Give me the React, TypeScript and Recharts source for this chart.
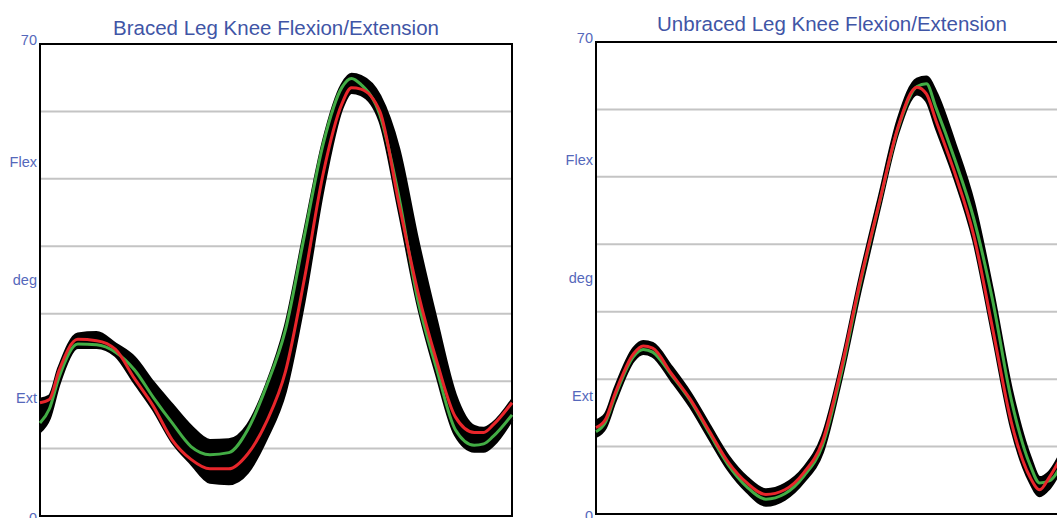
import React from 'react';
import {
  ComposedChart,
  Line,
  Area,
  XAxis,
  YAxis,
  CartesianGrid,
  ReferenceArea,
} from 'recharts';

// ---- Braced leg (left panel) ----
const gaitBraced = [0, 2, 4, 8, 12, 16, 20, 24, 28, 32, 36, 40, 44, 48, 52, 56, 60, 64, 66, 68, 72, 76, 80, 84, 88, 92, 94, 96, 100];
const bracedGreen = [13.8, 15.9, 20.5, 25.5, 25.4, 24.3, 21.7, 17.6, 13.8, 10.3, 9.1, 9.4, 12.8, 19.3, 27.6, 41.5, 55.2, 63.6, 64.9, 64.0, 59.5, 47.5, 32.2, 21.9, 12.8, 10.5, 10.7, 11.8, 15.0];
const bracedRed = [16.8, 17.3, 21.5, 26.2, 26.0, 24.7, 20.4, 16.3, 11.3, 8.4, 7.0, 7.0, 9.2, 14.0, 21.4, 35.1, 50.8, 61.2, 63.5, 63.3, 60.0, 46.5, 33.4, 23.1, 14.7, 12.4, 12.4, 13.5, 16.8];
const bracedBandLow = [12.5, 14.5, 19.5, 25.0, 25.0, 23.8, 19.8, 15.8, 11.0, 7.8, 5.0, 4.8, 6.5, 11.5, 18.5, 32.0, 48.5, 60.5, 62.8, 62.5, 58.6, 45.5, 31.5, 21.0, 12.0, 9.6, 9.6, 10.5, 14.3];
const bracedBandHigh = [17.3, 17.8, 22.0, 27.0, 27.2, 25.5, 23.5, 19.8, 16.5, 13.3, 11.2, 11.3, 13.5, 19.5, 28.2, 42.0, 55.5, 64.0, 65.5, 65.2, 62.3, 54.5, 41.0, 29.0, 18.0, 13.3, 13.0, 13.8, 17.2];

// ---- Unbraced leg (right panel) ----
const gaitUnbraced = [0, 2, 4, 8, 10, 12, 16, 20, 24, 28, 32, 36, 40, 44, 48, 52, 56, 60, 64, 68, 70, 72, 76, 80, 84, 88, 92, 94, 96, 100];
const unbracedGreen = [12.2, 13.6, 17.4, 23.4, 24.4, 24.0, 20.6, 16.8, 12.0, 7.3, 4.0, 2.2, 3.0, 5.6, 10.2, 21.0, 34.2, 46.0, 57.2, 63.4, 63.8, 60.3, 52.6, 43.9, 31.8, 16.9, 7.2, 4.6, 4.9, 9.5];
const unbracedRed = [12.8, 14.0, 17.8, 23.8, 24.9, 24.6, 20.8, 17.0, 12.3, 7.7, 4.6, 2.9, 3.6, 6.1, 10.8, 21.7, 34.6, 46.1, 57.4, 63.3, 62.3, 58.4, 50.6, 41.4, 27.6, 13.6, 5.4, 3.6, 5.4, 10.5];
const unbracedBandLow = [11.5, 12.8, 16.6, 22.8, 23.8, 23.4, 19.8, 15.9, 11.2, 6.6, 3.3, 1.3, 2.2, 4.8, 9.2, 20.2, 33.2, 45.2, 56.6, 62.3, 61.3, 57.4, 49.8, 40.6, 26.8, 12.8, 4.7, 2.7, 3.8, 8.8];
const unbracedBandHigh = [13.8, 14.8, 18.6, 24.6, 25.6, 25.3, 21.8, 17.9, 13.2, 8.6, 5.4, 3.6, 4.4, 6.8, 11.6, 22.3, 35.3, 47.0, 58.5, 64.5, 64.8, 62.6, 55.0, 46.2, 33.2, 18.5, 8.4, 5.4, 6.2, 11.3];

// ---- Axis text ----
const yTicks = [0, 17.5, 35, 52.5, 70];
const yTickLabels = ['0', 'Ext', 'deg', 'Flex', '70'];
const gridValues = [10, 20, 30, 40, 50, 60];
const yDomain = [0, 70];
const titleBraced = 'Braced Leg Knee Flexion/Extension';
const titleUnbraced = 'Unbraced Leg Knee Flexion/Extension';

const TITLE_COLOR = '#3f55a6';
const TICK_COLOR = '#5568bb';
const FONT = '"Liberation Sans", Arial, sans-serif';

function buildRows(gait: number[], lo: number[], hi: number[], green: number[], red: number[]) {
  return gait.map((g, i) => ({ gait: g, band: [lo[i], hi[i]], green: green[i], red: red[i] }));
}

function gridCoords(args: any): number[] {
  const s = args?.yAxis?.scale;
  if (typeof s === 'function') return gridValues.map((v) => s(v));
  if (s && typeof s.map === 'function') return gridValues.map((v) => s.map(v));
  const off = args?.offset;
  if (off && typeof off.top === 'number') {
    return gridValues.map((v) => off.top + off.height * (1 - (v - yDomain[0]) / (yDomain[1] - yDomain[0])));
  }
  return [];
}

const YTick = (props: any) => {
  const { x, y, payload } = props;
  const idx = yTicks.indexOf(payload.value);
  const label = idx >= 0 ? yTickLabels[idx] : String(payload.value);
  let dy = 1;
  if (payload.value === 70) dy = -3;
  if (payload.value === 0) dy = 3;
  return (
    <text
      x={x}
      y={y}
      dy={dy}
      textAnchor="end"
      dominantBaseline="middle"
      fill={TICK_COLOR}
      fontSize={14.5}
      fontFamily={FONT}
    >
      {label}
    </text>
  );
};

type PanelProps = {
  left: number;
  marginTop: number;
  marginBottom: number;
  titleTop: number;
  title: string;
  rows: any[];
};

const Panel = ({ left, marginTop, marginBottom, titleTop, title, rows }: PanelProps) => {
  const W = 560;
  const H = 518;
  return (
    <div style={{ position: 'absolute', left, top: 0, width: W, height: H }}>
      <div
        style={{
          position: 'absolute',
          left: 40,
          width: 472,
          top: titleTop,
          textAlign: 'center',
          fontFamily: FONT,
          fontSize: 20.5,
          lineHeight: '24px',
          color: TITLE_COLOR,
          whiteSpace: 'nowrap',
        }}
      >
        {title}
      </div>
      <ComposedChart
        width={W}
        height={H}
        data={rows}
        margin={{ top: marginTop, right: 48, bottom: marginBottom, left: 10 }}
      >
        <CartesianGrid
          vertical={false}
          stroke="#c4c4c4"
          strokeWidth={2}
          horizontalCoordinatesGenerator={gridCoords}
        />
        <XAxis dataKey="gait" type="number" domain={[0, 100]} hide />
        <YAxis
          type="number"
          domain={yDomain}
          ticks={yTicks}
          width={30}
          axisLine={false}
          tickLine={false}
          tickSize={0}
          tickMargin={3}
          tick={<YTick />}
          interval={0}
        />
        <Area
          dataKey="band"
          type="monotone"
          fill="#000"
          fillOpacity={1}
          stroke="#000"
          strokeWidth={3}
          dot={false}
          activeDot={false}
          isAnimationActive={false}
        />
        <Line
          dataKey="green"
          type="monotone"
          stroke="#43ad45"
          strokeWidth={3}
          dot={false}
          activeDot={false}
          isAnimationActive={false}
        />
        <Line
          dataKey="red"
          type="monotone"
          stroke="#e8262b"
          strokeWidth={3}
          dot={false}
          activeDot={false}
          isAnimationActive={false}
        />
        <ReferenceArea
          x1={0}
          x2={100}
          y1={0}
          y2={70}
          fill="none"
          fillOpacity={0}
          stroke="#000"
          strokeWidth={2}
          strokeOpacity={1}
        />
      </ComposedChart>
    </div>
  );
};

export default function App() {
  const braced = buildRows(gaitBraced, bracedBandLow, bracedBandHigh, bracedGreen, bracedRed);
  const unbraced = buildRows(gaitUnbraced, unbracedBandLow, unbracedBandHigh, unbracedGreen, unbracedRed);
  return (
    <div
      style={{
        position: 'absolute',
        left: 0,
        top: 0,
        width: 1057,
        height: 518,
        overflow: 'hidden',
        background: '#fff',
      }}
    >
      <Panel left={0} marginTop={44} marginBottom={2} titleTop={16} title={titleBraced} rows={braced} />
      <Panel left={556} marginTop={42} marginBottom={4} titleTop={12} title={titleUnbraced} rows={unbraced} />
    </div>
  );
}
